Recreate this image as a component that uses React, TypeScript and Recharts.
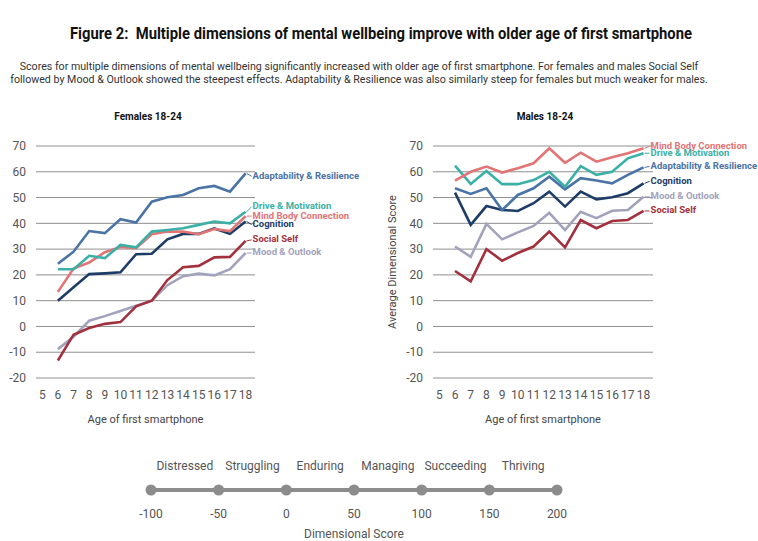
import { LineChart, Line, XAxis, YAxis, CartesianGrid, LabelList } from "recharts";

const ages = [6, 7, 8, 9, 10, 11, 12, 13, 14, 15, 16, 17, 18];
const ageTicks = [5, 6, 7, 8, 9, 10, 11, 12, 13, 14, 15, 16, 17, 18];
const scoreTicks = [-20, -10, 0, 10, 20, 30, 40, 50, 60, 70];

// Females 18-24
const fAdapt = [24.3, 29, 37, 36.2, 41.6, 40.3, 48.4, 50.1, 51, 53.6, 54.5, 52.3, 59.4];
const fDrive = [22.2, 22.2, 27.4, 26.5, 31.6, 30.7, 36.8, 37.4, 38.1, 39.4, 40.7, 40, 44.5];
const fMind = [13.4, 22.5, 24.8, 28.8, 30.8, 30.4, 35.8, 36.8, 36.8, 35.8, 37.8, 37, 42.8];
const fCog = [10, 15.2, 20.3, 20.6, 21, 28, 28.2, 33.8, 35.9, 35.9, 38, 35.9, 40.7];
const fSocial = [-13.2, -3.2, -0.6, 1, 1.7, 7.8, 10, 18, 23, 23.5, 26.8, 27, 33.2];
const fMood = [-8.8, -4, 2.2, 4, 6, 8, 10, 16, 19.5, 20.5, 19.8, 22.2, 28.5];

// Males 18-24
const mMind = [56.6, 60, 62, 59.7, 61.4, 63.3, 69.1, 63.5, 67.4, 63.9, 65.6, 67.2, 69.1];
const mDrive = [62.4, 55.3, 60.3, 55.2, 55.2, 56.8, 60, 54.2, 62.2, 58.8, 60, 65.2, 67.2];
const mAdapt = [53.6, 51.4, 53.6, 45.2, 51, 53.6, 58.1, 53.2, 57.5, 56.6, 55.5, 58.8, 61.7];
const mCog = [51.9, 39.4, 46.7, 45.2, 44.8, 47.8, 52.3, 46.5, 52.3, 49.3, 50.1, 51.7, 55.5];
const mMood = [31, 27, 39.8, 33.8, 36.5, 39, 44.1, 37.4, 44.5, 42, 44.9, 45.2, 50.3];
const mSocial = [21.5, 17.5, 30, 25.5, 28.5, 31, 36.8, 30.7, 41.3, 38.1, 40.9, 41.3, 44.8];

// bottom scale
const scorePoints = [-100, -50, 0, 50, 100, 150, 200];
const bandNames = ["Distressed", "Struggling", "Enduring", "Managing", "Succeeding", "Thriving"];
const bandCenters = [-75, -25, 25, 75, 125, 175];

const COLORS: Record<string, string> = {
  adapt: "#4a73a6",
  drive: "#3bb0a6",
  mind: "#e27476",
  cog: "#1d3c66",
  social: "#a3303d",
  mood: "#a2a2bd",
};

const NAMES: Record<string, string> = {
  adapt: "Adaptability & Resilience",
  drive: "Drive & Motivation",
  mind: "Mind Body Connection",
  cog: "Cognition",
  social: "Social Self",
  mood: "Mood & Outlook",
};

const femaleRows = ages.map((age, i) => ({
  age,
  adapt: fAdapt[i],
  drive: fDrive[i],
  mind: fMind[i],
  cog: fCog[i],
  social: fSocial[i],
  mood: fMood[i],
}));

const maleRows = ages.map((age, i) => ({
  age,
  adapt: mAdapt[i],
  drive: mDrive[i],
  mind: mMind[i],
  cog: mCog[i],
  social: mSocial[i],
  mood: mMood[i],
}));

const scaleRows = scorePoints.map((s) => ({ s, y: 0 }));

const FONT = "Roboto, 'Noto Sans', sans-serif";

const endLabel = (key: string, dy: number) => (p: any) => {
  if (p.index !== ages.length - 1) return null;
  const x = Number(p.x);
  const y = Number(p.y);
  return (
    <g>
      <line x1={x + 1} y1={y} x2={x + 6} y2={y + dy} stroke={COLORS[key]} strokeWidth={1} />
      <text
        x={x + 7}
        y={y + dy}
        dominantBaseline="middle"
        fill={COLORS[key]}
        fontSize={9.5}
        fontWeight={700}
        fontFamily={FONT}
      >
        {NAMES[key]}
      </text>
    </g>
  );
};

const tickStyle = { fill: "#555", fontSize: 12, fontFamily: FONT };

function Panel({
  rows,
  order,
  offsets,
  width,
  marginLeft,
  marginRight,
  yWidth,
  yTitle,
}: {
  rows: any[];
  order: string[];
  offsets: Record<string, number>;
  width: number;
  marginLeft: number;
  marginRight: number;
  yWidth: number;
  yTitle?: string;
}) {
  return (
    <LineChart
      width={width}
      height={300}
      data={rows}
      margin={{ top: 16, right: marginRight, bottom: 7, left: marginLeft }}
    >
      <CartesianGrid vertical={false} stroke="#8f8f8f" strokeWidth={1} />
      <XAxis
        dataKey="age"
        type="number"
        domain={[4.6, 18.6]}
        ticks={ageTicks}
        interval={0}
        axisLine={false}
        tickLine={false}
        tickSize={0}
        tickMargin={12}
        height={45}
        tick={tickStyle}
        label={{
          value: "Age of first smartphone",
          position: "insideBottom",
          offset: 0,
          style: { fill: "#444", fontSize: 11, fontFamily: FONT },
        }}
      />
      <YAxis
        type="number"
        domain={[-20, 70]}
        ticks={scoreTicks}
        interval={0}
        axisLine={false}
        tickLine={false}
        tickSize={0}
        tickMargin={10}
        width={yWidth}
        tick={tickStyle}
        label={
          yTitle
            ? {
                value: yTitle,
                angle: -90,
                position: "insideLeft",
                offset: 4,
                style: { textAnchor: "middle", fill: "#444", fontSize: 11, fontFamily: FONT },
              }
            : undefined
        }
      />
      {order.map((key) => (
        <Line
          key={key}
          dataKey={key}
          stroke={COLORS[key]}
          strokeWidth={2.6}
          dot={false}
          isAnimationActive={false}
        >
          <LabelList dataKey={key} content={endLabel(key, offsets[key])} />
        </Line>
      ))}
    </LineChart>
  );
}

export default function App() {
  return (
    <div
      style={{
        position: "absolute",
        left: 0,
        top: 0,
        width: 758,
        height: 541,
        background: "#fff",
        fontFamily: FONT,
        overflow: "hidden",
      }}
    >
      <div
        style={{
          position: "absolute",
          top: 23,
          left: -119,
          width: 1000,
          textAlign: "center",
          fontFamily: FONT,
          fontWeight: 700,
          fontSize: 17,
          color: "#111",
          whiteSpace: "nowrap",
          transform: "scaleX(0.87)",
          transformOrigin: "500px 0",
        }}
      >
        Figure 2:&nbsp; Multiple dimensions of mental wellbeing improve with older age of first smartphone
      </div>
      <div
        style={{
          position: "absolute",
          top: 60,
          left: -91,
          width: 900,
          textAlign: "center",
          fontFamily: FONT,
          fontSize: 11.5,
          lineHeight: "13px",
          color: "#333",
          whiteSpace: "nowrap",
          transform: "scaleX(0.925)",
          transformOrigin: "450px 0",
        }}
      >
        Scores for multiple dimensions of mental wellbeing significantly increased with older age of first smartphone. For females and males Social Self
        <br />
        followed by Mood &amp; Outlook showed the steepest effects. Adaptability &amp; Resilience was also similarly steep for females but much weaker for males.
      </div>

      <div style={{ position: "absolute", top: 111, left: 98, width: 100, textAlign: "center", fontSize: 10, fontWeight: 700, color: "#111" }}>
        Females 18-24
      </div>
      <div style={{ position: "absolute", top: 111, left: 495, width: 100, textAlign: "center", fontSize: 10, fontWeight: 700, color: "#111" }}>
        Males 18-24
      </div>

      <div style={{ position: "absolute", left: 0, top: 130 }}>
        <Panel
          rows={femaleRows}
          order={["mood", "social", "cog", "mind", "drive", "adapt"]}
          offsets={{ adapt: 3, drive: -5, mind: 0, cog: 3, social: -1, mood: 0 }}
          width={370}
          marginLeft={6}
          marginRight={115}
          yWidth={30}
        />
      </div>

      <div style={{ position: "absolute", left: 380, top: 130 }}>
        <Panel
          rows={maleRows}
          order={["social", "mood", "cog", "adapt", "drive", "mind"]}
          offsets={{ mind: -2, drive: 0, adapt: -1, cog: -2, mood: 0, social: 0 }}
          width={378}
          marginLeft={8}
          marginRight={105}
          yWidth={45}
          yTitle="Average Dimensional Score"
        />
      </div>

      <div style={{ position: "absolute", left: 120, top: 445 }}>
        <LineChart width={470} height={96} data={scaleRows} margin={{ top: 0, right: 33, bottom: 0, left: 31 }}>
          <XAxis
            xAxisId="bands"
            dataKey="s"
            orientation="top"
            type="number"
            domain={[-100, 200]}
            ticks={bandCenters}
            interval={0}
            axisLine={false}
            tickLine={false}
            tickSize={0}
            tickMargin={8}
            height={33}
            tick={{ fill: "#555", fontSize: 12, fontFamily: FONT }}
            tickFormatter={(v: number) => bandNames[bandCenters.indexOf(v)] ?? ""}
          />
          <XAxis
            xAxisId="score"
            dataKey="s"
            type="number"
            domain={[-100, 200]}
            ticks={scorePoints}
            interval={0}
            axisLine={false}
            tickLine={false}
            tickSize={0}
            tickMargin={7}
            height={39}
            tick={{ fill: "#555", fontSize: 12, fontFamily: FONT }}
            label={{
              value: "Dimensional Score",
              position: "insideBottom",
              offset: 3,
              style: { fill: "#555", fontSize: 12, fontFamily: FONT },
            }}
          />
          <YAxis hide domain={[-1, 1]} />
          <Line
            xAxisId="bands"
            dataKey="y"
            stroke="none"
            dot={false}
            isAnimationActive={false}
          />
          <Line
            xAxisId="score"
            dataKey="y"
            stroke="#8c8c8c"
            strokeWidth={4}
            dot={{ r: 5.5, fill: "#8c8c8c", stroke: "#8c8c8c", strokeWidth: 0 }}
            isAnimationActive={false}
          />
        </LineChart>
      </div>
    </div>
  );
}
